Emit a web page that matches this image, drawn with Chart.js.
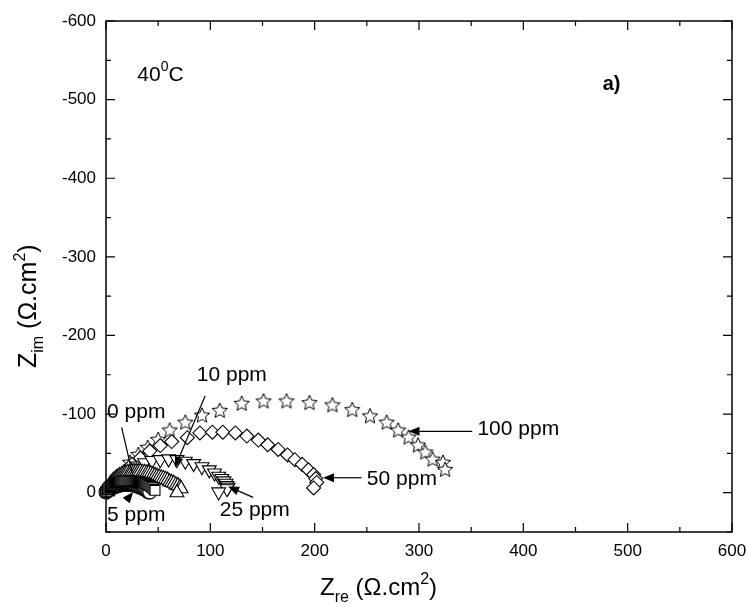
<!DOCTYPE html>
<html>
<head>
<meta charset="utf-8">
<script src="https://cdn.jsdelivr.net/npm/chart.js@4.4.1/dist/chart.umd.min.js"></script>
<style>
  html, body { margin: 0; padding: 0; background: #fff; }
</style>
</head>
<body>
<canvas id="nyq" width="747" height="607"></canvas>
<script>
// ---- data (Z_re, Z_im in ohm.cm2) ----
const ppm0X = [0, 1, 1.5, 2, 3, 4, 5, 6, 7, 8, 9, 10, 11, 12, 13, 14, 15, 16, 17, 18, 19, 20, 21, 22, 23, 24, 25, 26, 27, 28, 29, 30, 31, 32, 33, 34, 35, 36, 37, 38, 39, 40, 41, 42, 43, 44, 45, 46, 47];
const ppm0Y = [-1, -2, -4, -5, -7, -8, -9, -10, -11, -12, -12, -13, -13, -14, -14, -14, -15, -15, -15, -15, -15, -15, -15, -15, -15, -15, -15, -15, -15, -15, -15, -14, -14, -14, -14, -13, -13, -13, -12, -12, -11, -10, -10, -9, -8, -7, -6, -4, -3];

const ppm5X = [0, 1, 2, 3, 4, 5, 6, 7, 8, 9, 10, 11, 12, 13, 14, 15, 16, 17, 18, 19, 20, 21, 22, 23, 24, 25, 26, 27, 28, 29, 30, 31, 32, 33, 34, 35, 36, 37, 38, 39, 40, 41, 42];
const ppm5Y = [-1, -2, -3, -4, -5, -6, -7, -7, -8, -8, -9, -9, -10, -10, -10, -11, -11, -11, -11, -11, -11, -11, -11, -11, -11, -11, -10, -10, -10, -9, -9, -8, -8, -7, -7, -6, -5, -5, -4, -3, -2, -1, -1];

const ppm10X = [1, 2, 3, 4, 5, 7, 9, 11, 13, 15, 17, 19, 21, 23, 25, 27, 29, 31, 33, 35, 37, 39, 41, 43, 45, 47, 49, 51, 53, 55, 57, 59, 61, 63, 65, 67, 69, 71, 72, 68];
const ppm10Y = [-2, -5, -8, -11, -13, -16, -18, -20, -22, -23, -24, -25, -26, -26, -27, -27, -27, -27, -27, -26, -26, -25, -25, -24, -23, -22, -21, -20, -19, -18, -17, -16, -14, -13, -12, -10, -9, -7, -5, 0];

const ppm25X = [2, 5, 9, 13, 18, 24, 30, 37, 44, 52, 60, 68, 76, 84, 92, 99, 104, 108, 111, 113, 115, 116, 117, 116, 108];
const ppm25Y = [-2, -6, -11, -17, -23, -29, -34, -38, -41, -42, -43, -42, -40, -37, -33, -29, -25, -21, -18, -15, -12, -9, -7, -5, -1];

const ppm50X = [3, 7, 11, 15, 19, 25, 33, 42, 52, 63, 78, 90, 102, 112, 124, 135, 146, 155, 165, 174, 181, 188, 194, 199, 201, 202, 199];
const ppm50Y = [-3, -8, -15, -21, -28, -36, -44, -53, -60, -65, -70, -76, -77, -77, -76, -72, -67, -61, -55, -48, -42, -36, -29, -23, -18, -13, -6];

const ppm100X = [4, 8, 12, 17, 23, 31, 40, 50, 61, 76, 92, 109, 130, 151, 173, 195, 217, 236, 253, 269, 280, 290, 299, 306, 313, 323, 325];
const ppm100Y = [-4, -9, -16, -26, -38, -48, -57, -67, -79, -89, -98, -104, -113, -116, -116, -114, -111, -105, -97, -89, -79, -70, -60, -51, -42, -38, -29];

const xTicks = [0, 100, 200, 300, 400, 500, 600];
const yTicks = [-600, -500, -400, -300, -200, -100, 0];

// labels placed in data units
const labelText = ['0 ppm', '5 ppm', '10 ppm', '25 ppm', '50 ppm', '100 ppm'];
const labelX = [1, 1, 87, 109, 250, 356];
const labelY = [-102, 28, -150, 22, -17, -81];
// arrows: from (x1,y1) to (x2,y2)
const arrowX1 = [15, 20, 95, 141, 245, 351];
const arrowY1 = [-83, 9, -123, 6, -19, -78];
const arrowX2 = [26, 26, 66, 117, 208, 290];
const arrowY2 = [-20, -1, -32, -8, -19, -78];
const arrowHead = [false, true, true, true, true, true];

const FONT = "'Liberation Sans', Arial, sans-serif";

function pts(xs, ys) { return xs.map((x, i) => ({ x: x, y: ys[i] })); }

// open five-point star used as point style
function starImage(r) {
  const c = document.createElement('canvas');
  const s = Math.ceil(r * 2 + 4);
  c.width = c.height = s;
  const g = c.getContext('2d');
  const m = s / 2;
  g.beginPath();
  for (let i = 0; i < 10; i++) {
    const a = -Math.PI / 2 + i * Math.PI / 5;
    const rr = i % 2 ? r * 0.46 : r;
    g.lineTo(m + rr * Math.cos(a), m + rr * Math.sin(a));
  }
  g.closePath();
  g.fillStyle = '#fff'; g.fill();
  g.strokeStyle = '#000'; g.lineWidth = 1; g.stroke();
  return c;
}

function ds(label, data, style, radius, rotation) {
  return {
    label, data, pointStyle: style, pointRadius: radius, pointRotation: rotation || 0,
    pointBackgroundColor: '#fff', pointBorderColor: '#000', pointBorderWidth: 1.1,
    showLine: false, clip: false
  };
}

// draw runs of text with sub/superscripts: [text, size, dy, bold]
function richText(ctx, parts, x, y) {
  let cx = x;
  parts.forEach(([t, size, dy, bold]) => {
    ctx.font = (bold ? 'bold ' : '') + size + 'px ' + FONT;
    ctx.fillText(t, cx, y + dy);
    cx += ctx.measureText(t).width;
  });
}

const framePlugin = {
  id: 'frame',
  afterDraw(chart) {
    const { ctx, chartArea: a, scales: { x, y } } = chart;
    ctx.save();
    ctx.strokeStyle = '#000';
    ctx.fillStyle = '#000';
    ctx.lineWidth = 1.5;
    ctx.strokeRect(a.left, a.top, a.right - a.left, a.bottom - a.top);
    ctx.lineWidth = 1.2;
    ctx.beginPath();
    for (let v = 0; v <= 600; v += 50) {
      const p = x.getPixelForValue(v), len = v % 100 === 0 ? 9 : 5;
      ctx.moveTo(p, a.bottom); ctx.lineTo(p, a.bottom - len);
      ctx.moveTo(p, a.top); ctx.lineTo(p, a.top + len);
    }
    for (let v = -600; v <= 50; v += 50) {
      const p = y.getPixelForValue(v), len = v % 100 === 0 ? 9 : 5;
      ctx.moveTo(a.left, p); ctx.lineTo(a.left + len, p);
      ctx.moveTo(a.right, p); ctx.lineTo(a.right - len, p);
    }
    ctx.stroke();

    // ppm labels and arrows
    ctx.textBaseline = 'middle';
    ctx.textAlign = 'left';
    ctx.font = '21px ' + FONT;
    labelText.forEach((t, i) => {
      ctx.fillText(t, x.getPixelForValue(labelX[i]), y.getPixelForValue(labelY[i]));
    });
    ctx.lineWidth = 1.2;
    arrowX1.forEach((_, i) => {
      const x1 = x.getPixelForValue(arrowX1[i]), y1 = y.getPixelForValue(arrowY1[i]);
      const x2 = x.getPixelForValue(arrowX2[i]), y2 = y.getPixelForValue(arrowY2[i]);
      const ang = Math.atan2(y2 - y1, x2 - x1);
      const hl = arrowHead[i] ? 11 : 0;
      ctx.beginPath();
      ctx.moveTo(x1, y1);
      ctx.lineTo(x2 - hl * Math.cos(ang), y2 - hl * Math.sin(ang));
      ctx.stroke();
      if (arrowHead[i]) {
        ctx.beginPath();
        ctx.moveTo(x2, y2);
        ctx.lineTo(x2 - hl * Math.cos(ang) + 4.5 * Math.sin(ang), y2 - hl * Math.sin(ang) - 4.5 * Math.cos(ang));
        ctx.lineTo(x2 - hl * Math.cos(ang) - 4.5 * Math.sin(ang), y2 - hl * Math.sin(ang) + 4.5 * Math.cos(ang));
        ctx.closePath();
        ctx.fill();
      }
    });

    // temperature and panel label
    ctx.textBaseline = 'alphabetic';
    richText(ctx, [['40', 21, 0], ['0', 14, -10], ['C', 21, 0]], x.getPixelForValue(30), y.getPixelForValue(-524));
    richText(ctx, [['a)', 20, 0, true]], x.getPixelForValue(476), y.getPixelForValue(-512));

    // x axis title
    richText(ctx, [['Z', 24, 0], ['re', 16, 7], [' (\u03A9.cm', 24, 0], ['2', 16, -11], [')', 24, 0]], 320, 595);

    // y axis title (rotated)
    ctx.translate(36, 368);
    ctx.rotate(-Math.PI / 2);
    richText(ctx, [['Z', 25, 0], ['im', 16, 7], [' (\u03A9.cm', 25, 0], ['2', 16, -11], [')', 25, 0]], 0, 0);
    ctx.restore();
  }
};

new Chart(document.getElementById('nyq'), {
  type: 'scatter',
  data: {
    datasets: [
      ds('0 ppm', pts(ppm0X, ppm0Y), 'rect', 7),
      ds('5 ppm', pts(ppm5X, ppm5Y), 'circle', 7),
      ds('10 ppm', pts(ppm10X, ppm10Y), 'triangle', 8),
      ds('25 ppm', pts(ppm25X, ppm25Y), 'triangle', 8, 180),
      ds('50 ppm', pts(ppm50X, ppm50Y), 'rectRot', 7),
      ds('100 ppm', pts(ppm100X, ppm100Y), starImage(8), 8)
    ]
  },
  options: {
    responsive: false,
    animation: false,
    devicePixelRatio: 1,
    layout: { padding: { top: 21, right: 15, left: 0, bottom: 0 } },
    plugins: { legend: { display: false }, tooltip: { enabled: false } },
    scales: {
      x: {
        type: 'linear', min: 0, max: 600,
        afterBuildTicks: s => { s.ticks = xTicks.map(v => ({ value: v })); },
        ticks: { color: '#000', font: { family: FONT, size: 17 }, padding: 9, autoSkip: false, maxRotation: 0 },
        grid: { display: false, drawTicks: false },
        border: { display: false },
        afterFit: s => { s.height = 75; s.paddingLeft = 0; s.paddingRight = 0; }
      },
      y: {
        type: 'linear', min: -600, max: 50, reverse: true,
        afterBuildTicks: s => { s.ticks = yTicks.map(v => ({ value: v })); },
        ticks: { color: '#000', font: { family: FONT, size: 17 }, padding: 10, autoSkip: false },
        grid: { display: false, drawTicks: false },
        border: { display: false },
        afterFit: s => { s.width = 106; s.paddingTop = 0; s.paddingBottom = 0; }
      }
    }
  },
  plugins: [framePlugin]
});
</script>
</body>
</html>
